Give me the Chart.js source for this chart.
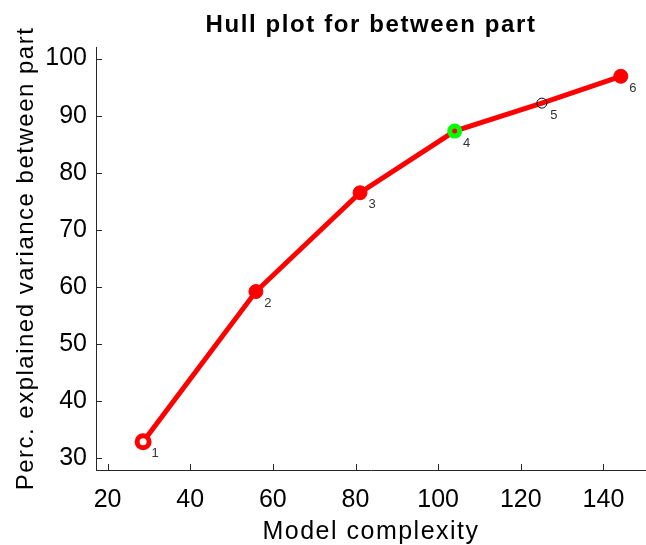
<!DOCTYPE html>
<html>
<head>
<meta charset="utf-8">
<script src="https://cdn.jsdelivr.net/npm/chart.js@4"></script>
<style>
  html, body { margin: 0; padding: 0; background: #fff; }
  #wrap { width: 646px; height: 545px; }
</style>
</head>
<body>
<div id="wrap"><canvas id="hullChart" width="646" height="545"></canvas></div>
<script>
// data
const complexity = [28.6, 55.9, 81.1, 104.0, 125.1, 144.2];
const explained = [32.9, 59.2, 76.5, 87.3, 92.2, 96.9];
const pointNames = ['1', '2', '3', '4', '5', '6'];
const xTicks = [20, 40, 60, 80, 100, 120, 140];
const yTicks = [30, 40, 50, 60, 70, 80, 90, 100];

const titleText = 'Hull plot for between part';
const xTitleText = 'Model complexity';
const yTitleText = 'Perc. explained variance between part';

const FONT = "'Liberation Sans', Arial, sans-serif";

// marker look per point (matlab style)
const pointFill = ['#ffffff', '#ff0000', '#ff0000', '#ff0000', 'rgba(0,0,0,0)', '#ff0000'];
const pointEdge = ['#ff0000', '#ff0000', '#ff0000', '#00ff00', '#000000', '#ff0000'];
const pointSize = [6, 7, 7, 5, 5, 7];
const pointEdgeWidth = [5, 1, 1, 5, 1, 1];

// inward tick marks + titles, drawn the matlab way (titles centred on the axes box)
const matlabAxes = {
    id: 'matlabAxes',
    afterDraw(chart) {
        const ctx = chart.ctx;
        const xs = chart.scales.x, ys = chart.scales.y;
        const area = chart.chartArea;
        ctx.save();
        ctx.strokeStyle = '#262626';
        ctx.lineWidth = 1;
        ctx.beginPath();
        xs.ticks.forEach(t => {
            const px = Math.round(xs.getPixelForValue(t.value)) + 0.5;
            ctx.moveTo(px, area.bottom);
            ctx.lineTo(px, area.bottom - 6);
        });
        ys.ticks.forEach(t => {
            const py = Math.round(ys.getPixelForValue(t.value)) + 0.5;
            ctx.moveTo(area.left, py);
            ctx.lineTo(area.left + 6, py);
        });
        ctx.stroke();

        const midX = (area.left + area.right) / 2;
        const midY = (area.top + area.bottom) / 2;
        ctx.fillStyle = '#000';
        ctx.textAlign = 'center';
        ctx.textBaseline = 'alphabetic';
        ctx.letterSpacing = '1.6px';
        ctx.font = 'bold 24px ' + FONT;
        ctx.fillText(titleText, midX, 32);

        ctx.letterSpacing = '1.5px';
        ctx.font = '25px ' + FONT;
        ctx.fillText(xTitleText, midX, 539);

        ctx.font = '24px ' + FONT;
        ctx.translate(33, midY);
        ctx.rotate(-Math.PI / 2);
        ctx.fillText(yTitleText, 0, 0);
        ctx.restore();
    }
};

// small number next to each point
const pointLabels = {
    id: 'pointLabels',
    afterDatasetsDraw(chart) {
        const ctx = chart.ctx;
        const meta = chart.getDatasetMeta(0);
        ctx.save();
        ctx.font = '13px ' + FONT;
        ctx.fillStyle = '#333333';
        ctx.textAlign = 'center';
        ctx.textBaseline = 'middle';
        meta.data.forEach((pt, i) => {
            ctx.fillText(pointNames[i], pt.x + 12, pt.y + 12);
        });
        ctx.restore();
    }
};

const ctxHull = document.getElementById('hullChart').getContext('2d');
const hullChart = new Chart(ctxHull, {
    type: 'line',
    data: {
        datasets: [{
            data: complexity.map((c, i) => ({ x: c, y: explained[i] })),
            borderColor: '#ff0000',
            borderWidth: 5,
            tension: 0,
            fill: false,
            pointBackgroundColor: pointFill,
            pointBorderColor: pointEdge,
            pointRadius: pointSize,
            pointBorderWidth: pointEdgeWidth,
            pointHoverRadius: pointSize
        }]
    },
    options: {
        responsive: false,
        animation: false,
        events: [],
        layout: { autoPadding: false, padding: { left: 0, right: 0, top: 47, bottom: 0 } },
        plugins: {
            legend: { display: false },
            tooltip: { enabled: false },
            title: { display: false }
        },
        scales: {
            x: {
                type: 'linear',
                min: 17.2,
                max: 150.3,
                afterBuildTicks: s => { s.ticks = xTicks.map(v => ({ value: v })); },
                afterFit: s => { s.height = 75; },
                grid: { display: true, drawOnChartArea: false, drawTicks: false, tickLength: 0 },
                border: { display: true, color: '#262626', width: 1 },
                ticks: { color: '#000', font: { family: FONT, size: 25 }, padding: 15, maxRotation: 0 }
            },
            y: {
                type: 'linear',
                min: 27.95,
                max: 102.03,
                afterBuildTicks: s => { s.ticks = yTicks.map(v => ({ value: v })); },
                afterFit: s => { s.width = 96; },
                grid: { display: true, drawOnChartArea: false, drawTicks: false, tickLength: 0 },
                border: { display: true, color: '#262626', width: 1 },
                ticks: { color: '#000', font: { family: FONT, size: 25 }, padding: 9 }
            }
        }
    },
    plugins: [matlabAxes, pointLabels]
});
</script>
</body>
</html>
